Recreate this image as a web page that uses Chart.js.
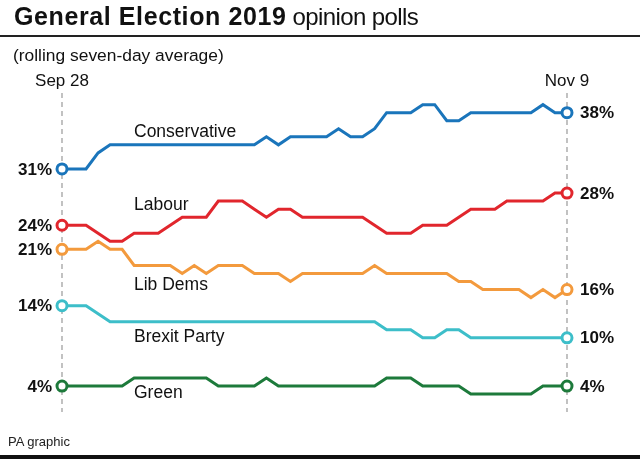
<!DOCTYPE html>
<html>
<head>
<meta charset="utf-8">
<script src="https://cdn.jsdelivr.net/npm/chart.js@4"></script>
<style>
  html, body { margin:0; padding:0; background:#fff; }
  body { width:640px; height:459px; position:relative; overflow:hidden; font-family:"Liberation Sans", Arial, sans-serif; color:#111; }
  #wrap { position:absolute; left:0; top:0; width:640px; height:459px; }
  .t { position:absolute; white-space:nowrap; }
  #title { left:14px; top:2px; font-size:25px; }
  #title b { font-weight:bold; letter-spacing:0.6px; }
  #title span { font-size:24px; letter-spacing:-0.6px; }
  #rule { position:absolute; left:0; top:35px; width:640px; height:1.5px; background:#222; }
  #sub { left:13px; top:45px; font-size:17.4px; }
  #foot { left:8px; top:434px; font-size:13px; color:#222; }
  #brule { position:absolute; left:0; top:455px; width:640px; height:4px; background:#111; }
</style>
</head>
<body>
<div id="wrap"><canvas id="c" width="640" height="459"></canvas></div>
<div class="t" id="title"><b>General Election 2019</b><span> opinion polls</span></div>
<div id="rule"></div>
<div class="t" id="sub">(rolling seven-day average)</div>
<div class="t" id="foot">PA graphic</div>
<div id="brule"></div>
<script>
// Days from Sep 28 to Nov 9 (43 daily points)
const startLabel = "Sep 28";
const endLabel = "Nov 9";
const days = [];
(function(){
  const d = new Date(2019, 8, 28);
  const end = new Date(2019, 10, 9);
  const m = ["Jan","Feb","Mar","Apr","May","Jun","Jul","Aug","Sep","Oct","Nov","Dec"];
  while (d <= end) { days.push(m[d.getMonth()] + " " + d.getDate()); d.setDate(d.getDate()+1); }
})();

const seriesNames = ["Conservative", "Labour", "Lib Dems", "Brexit Party", "Green"];
const conservative = [31,31,31,33,34,34,34,34,34,34,34,34,34,34,34,34,34,35,34,35,35,35,35,36,35,35,36,38,38,38,39,39,37,37,38,38,38,38,38,38,39,38,38];
const labour       = [24,24,24,23,22,22,23,23,23,24,25,25,25,27,27,27,26,25,26,26,25,25,25,25,25,25,24,23,23,23,24,24,24,25,26,26,26,27,27,27,27,28,28];
const libDems      = [21,21,21,22,21,21,19,19,19,19,18,19,18,19,19,19,18,18,18,17,18,18,18,18,18,18,19,18,18,18,18,18,18,17,17,16,16,16,16,15,16,15,16];
const brexitParty  = [14,14,14,13,12,12,12,12,12,12,12,12,12,12,12,12,12,12,12,12,12,12,12,12,12,12,12,11,11,11,10,10,11,11,10,10,10,10,10,10,10,10,10];
const green        = [4,4,4,4,4,4,5,5,5,5,5,5,5,4,4,4,4,5,4,4,4,4,4,4,4,4,4,5,5,5,4,4,4,4,3,3,3,3,3,3,4,4,4];

const colors = ["#1a75bb", "#e1262d", "#f39a3d", "#3dbec9", "#1d7a3b"];
const allSeries = [conservative, labour, libDems, brexitParty, green];
// label placement (pixels) for series names
const nameLabelPos = [[134,132],[134,205],[134,285],[134,337],[134,393]];

const annot = {
  id: 'annot',
  beforeDatasetsDraw(chart) {
    const {ctx} = chart;
    const x = chart.scales.x;
    const x0 = x.getPixelForValue(0), x1 = x.getPixelForValue(days.length-1);
    ctx.save();
    ctx.strokeStyle = "#a8a8a8";
    ctx.lineWidth = 1.4;
    ctx.setLineDash([5,4]);
    [x0, x1].forEach(px => {
      ctx.beginPath(); ctx.moveTo(px, 93); ctx.lineTo(px, 412); ctx.stroke();
    });
    ctx.restore();
  },
  afterDatasetsDraw(chart) {
    const {ctx} = chart;
    const x = chart.scales.x, y = chart.scales.y;
    const x0 = x.getPixelForValue(0), x1 = x.getPixelForValue(days.length-1);
    ctx.save();
    ctx.fillStyle = "#111";
    ctx.textBaseline = "middle";
    ctx.font = "17px 'Liberation Sans', Arial, sans-serif";
    ctx.textAlign = "center";
    ctx.fillText(startLabel, x0, 81);
    ctx.fillText(endLabel, x1, 81);
    ctx.textAlign = "left";
    ctx.font = "17.5px 'Liberation Sans', Arial, sans-serif";
    seriesNames.forEach((n,i) => ctx.fillText(n, nameLabelPos[i][0], nameLabelPos[i][1]));
    ctx.font = "bold 17px 'Liberation Sans', Arial, sans-serif";
    allSeries.forEach(s => {
      ctx.textAlign = "right";
      ctx.fillText(s[0] + "%", x0 - 10, y.getPixelForValue(s[0]) + 1);
      ctx.textAlign = "left";
      ctx.fillText(s[s.length-1] + "%", x1 + 13, y.getPixelForValue(s[s.length-1]) + 1);
    });
    ctx.restore();
  }
};

const last = days.length - 1;
new Chart(document.getElementById('c'), {
  type: 'line',
  data: {
    labels: days,
    datasets: allSeries.map((s,i) => ({
      label: seriesNames[i],
      data: s,
      borderColor: colors[i],
      backgroundColor: "#fff",
      borderWidth: 3,
      tension: 0,
      pointRadius: c => (c.dataIndex === 0 || c.dataIndex === last) ? 5 : 0,
      pointBorderWidth: 3,
      pointBackgroundColor: "#fff",
      pointBorderColor: colors[i]
    })).reverse()
  },
  options: {
    responsive: false,
    animation: false,
    layout: { padding: { left: 62, right: 73, top: 56.4, bottom: 40.8 } },
    plugins: { legend: { display: false }, tooltip: { enabled: false } },
    scales: {
      x: { display: false, offset: false },
      y: { display: false, min: 0, max: 45 }
    }
  },
  plugins: [annot]
});
</script>
</body>
</html>
